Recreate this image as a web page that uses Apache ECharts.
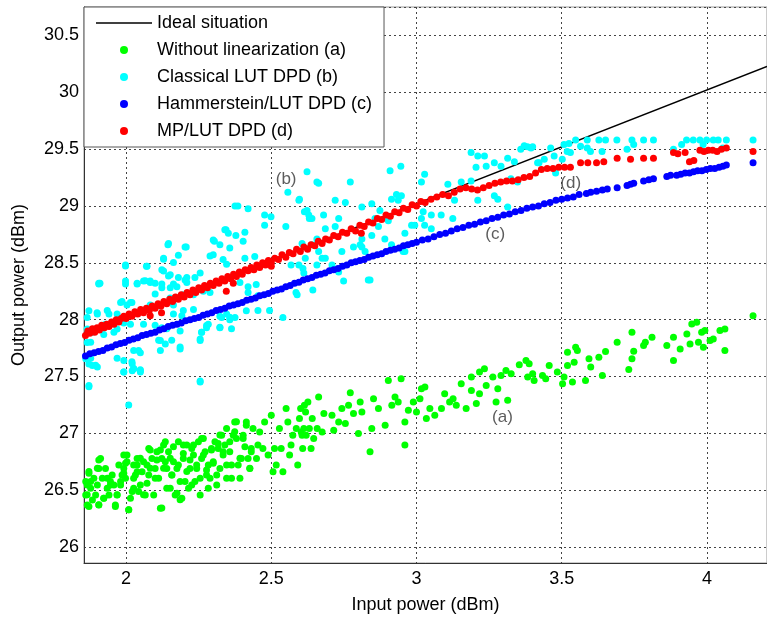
<!DOCTYPE html>
<html><head><meta charset="utf-8">
<script src="https://cdn.jsdelivr.net/npm/echarts@6/dist/echarts.min.js"></script>
<style>html,body{margin:0;padding:0;background:#fff;overflow:hidden}#c{width:767px;height:619px}</style>
</head><body><div id="c"></div>
<script>
const seriesNames = ['Ideal situation','Without linearization (a)','Classical LUT DPD (b)','Hammerstein/LUT DPD (c)','MP/LUT DPD (d)'];
const xAxisName = 'Input power (dBm)';
const yAxisName = 'Output power (dBm)';
const xRange = [1.855, 4.207];
const yRange = [25.86, 30.75];

const idealPts = [[1.855,27.875],[4.207,30.227]];

const greenPts = [
[1.861,26.576],[1.861,26.459],[1.866,26.371],[1.878,26.517],[1.872,26.649],[1.889,26.605],[1.901,26.546],[1.906,26.692],[1.912,26.780],[1.895,26.459],
[1.906,26.371],[1.923,26.430],[1.935,26.517],[1.946,26.576],[1.952,26.634],[1.963,26.371],[1.969,26.459],[1.981,26.546],[1.986,26.634],[1.992,26.692],
[1.992,26.809],[2.009,26.328],[2.015,26.430],[2.021,26.488],[2.026,26.605],[2.026,26.722],[2.038,26.780],[2.049,26.546],[2.055,26.663],[2.060,26.751],
[2.066,26.459],[2.078,26.634],[2.083,26.853],[2.095,26.459],[2.100,26.692],[2.112,26.605],[2.118,26.342],[2.123,26.780],[2.129,26.897],[2.140,26.692],
[2.146,26.838],[2.152,26.517],[2.163,26.751],[2.169,26.459],[2.180,26.926],[2.186,26.576],[2.192,26.430],[2.197,26.780],[2.209,26.897],[2.220,26.692],
[2.232,26.809],[2.237,26.576],[2.249,26.926],[2.255,26.459],[2.260,26.780],[2.266,26.955],[2.277,26.634],[2.283,26.722],[2.294,26.868],[2.300,26.751],
[2.306,26.926],[2.312,26.546],[2.323,26.692],[2.329,26.984],[2.334,26.809],[2.346,26.605],[2.346,27.043],[2.357,26.838],[2.363,26.722],[2.374,27.101],
[2.380,26.955],[2.392,26.605],[2.397,26.780],[2.409,26.882],[2.414,27.101],[2.426,26.692],[2.431,26.838],[2.449,26.780],[2.460,27.013],[2.471,26.868],
[2.477,27.101],[2.500,27.159],[2.506,26.663],[2.511,26.868],[2.517,26.722],[2.528,27.043],[2.540,26.663],[2.551,27.218],[2.557,27.101],[2.563,26.809],
[2.574,26.984],[2.591,26.722],[2.597,27.130],[2.608,26.868],[2.614,27.247],[2.626,27.276],[2.631,27.043],[2.637,26.868],
[1.866,26.546],[1.884,26.415],[1.918,26.605],[1.929,26.692],[1.941,26.459],[1.958,26.546],[1.975,26.722],[1.998,26.605],[2.003,26.751],[2.038,26.663],
[2.043,26.488],[2.072,26.722],[2.089,26.780],[2.106,26.838],[2.135,26.751],[2.157,26.634],[2.175,26.692],[2.197,26.897],[2.215,26.517],[2.226,26.868],
[2.243,26.692],[2.272,26.838],[2.289,26.605],[2.317,26.868],[2.340,26.897],[2.369,26.984],[2.386,26.722],[2.403,26.984],[2.420,26.780],[2.437,27.043],
[2.454,26.897],[2.489,26.809],[2.534,26.868],[2.568,26.897],[2.586,27.043],[2.603,27.013],[2.620,26.984],
[1.872,26.664],[1.906,26.766],[1.901,26.693],[1.878,26.576],[1.866,26.460],[1.872,26.357],[1.906,26.372],[1.923,26.430],[1.935,26.605],[1.946,26.547],
[1.963,26.357],[1.969,26.460],[1.981,26.576],[1.992,26.649],[1.998,26.737],[2.003,26.810],[2.009,26.328],[2.026,26.518],[2.032,26.635],[2.038,26.722],
[2.049,26.781],[2.060,26.460],[2.072,26.562],[2.078,26.868],[2.083,26.693],[2.100,26.605],[2.106,26.766],[2.118,26.854],[2.123,26.343],[2.129,26.693],
[2.135,26.927],[2.140,26.518],[2.152,26.781],[2.158,26.635],[2.163,26.883],[2.175,26.474],[2.180,26.722],[2.186,26.416],[2.197,26.824],[2.203,26.576],
[2.209,26.664],[2.220,26.766],[2.226,26.547],[2.232,26.897],[2.243,26.722],[2.255,26.605],[2.260,26.956],[2.266,26.810],[2.277,26.678],[2.283,26.518],
[2.294,26.854],[2.300,26.737],[2.312,26.635],[2.317,26.912],[2.323,26.985],[2.334,26.839],[2.346,26.722],[2.357,26.927],[2.363,26.605],[2.374,27.014],
[2.380,27.102],[2.392,26.781],[2.403,26.956],[2.414,27.072],[2.426,26.693],[2.431,26.868],
[2.601,27.218],[2.612,27.043],[2.618,27.189],[2.606,26.984],[2.641,27.130],[2.646,26.955],[2.663,27.320],[2.658,27.043],[2.675,27.013],[2.681,27.174],
[2.709,27.159],[2.715,27.028],[2.732,27.101],[2.743,27.218],[2.755,27.086],[2.766,27.247],[2.772,27.358],[2.783,27.174],[2.800,26.999],[2.806,27.276],
[2.812,27.189],[2.840,26.838],[2.846,27.043],[2.852,27.305],[2.869,27.218],[2.892,27.072],[2.903,27.466],[2.915,27.247],[2.926,27.320],[2.937,27.276],
[2.947,27.480],[2.960,26.897],[2.960,27.101],[2.972,27.203],[2.989,27.276],[3.000,27.189],[3.012,27.305],[3.017,27.393],[3.029,27.408],[3.034,27.130],
[3.046,27.218],[3.063,27.159],[3.086,27.218],[3.097,27.349],[3.114,27.276],[3.126,27.305],[3.137,27.247],[3.154,27.437],[3.171,27.218],[3.189,27.495],
[3.189,27.378],[3.206,27.262],[3.217,27.539],[3.217,27.349],[3.234,27.568],[3.240,27.422],[3.263,27.495],[3.274,27.276],[3.280,27.393],[3.291,27.510],
[3.308,27.553],[3.314,27.291],[3.326,27.524],[3.354,27.603],[3.377,27.641],[3.388,27.612],[3.383,27.495],[3.400,27.524],[3.405,27.466],[3.434,27.510],
[3.445,27.480],[3.457,27.597],[3.485,27.539],[3.503,27.437],[3.508,27.495],[3.520,27.714],[3.520,27.597],[3.537,27.451],[3.543,27.626],[3.548,27.758],
[3.554,27.729],[3.582,27.466],[3.594,27.656],[3.600,27.583],[3.628,27.670],[3.640,27.510],[3.651,27.720],[3.691,27.802],[3.731,27.562],[3.742,27.656],
[3.748,27.723],[3.742,27.889],[3.782,27.772],[3.788,27.802],[3.811,27.845],[3.862,27.772],[3.885,27.845],[3.885,27.641],[3.908,27.743],[3.931,27.875],
[3.942,27.787],[3.948,27.962],[3.965,27.977],[3.971,27.802],[3.982,27.889],[3.993,27.904],[3.988,27.758],[4.011,27.816],[4.022,27.831],[4.045,27.904],
[4.062,27.918],[4.062,27.729],[4.159,28.035]
];

const cyanPts = [
[2.375,29.0],[2.385,29.0],[2.42,28.975],[2.477,28.92],[2.499,28.905],[2.477,28.83],[2.55,28.82],[2.557,29.12],[2.597,29.06],[2.614,28.95],
[2.631,28.89],[2.34,28.79],[2.352,28.76],[2.409,28.77],[2.403,28.69],[2.30,28.70],[2.323,28.66],[2.357,28.63],[2.203,28.64],[2.146,28.67],
[2.30,28.57],[2.334,28.53],[2.409,28.54],[2.443,28.555],[1.998,28.48],[2.072,28.47],[2.123,28.44],[2.152,28.395],[2.18,28.37],[2.203,28.35],
[2.038,28.32],[2.06,28.34],[2.083,28.34],[2.1,28.32],[1.998,28.34],[2.123,28.28],[2.152,28.28],[2.175,28.29],[2.209,28.37],[2.237,28.37],
[2.255,28.41],[1.906,28.32],[1.9,28.06],[1.935,28.08],[1.969,28.05],[1.986,28.16],[2.02,28.15],[1.866,28.02],[1.992,27.97],[2.015,27.96],
[2.06,27.96],[2.1,27.95],[2.083,28.13],[2.118,28.12],[2.152,28.19],[2.163,28.13],[2.197,28.08],[2.232,28.09],[2.163,28.05],[2.197,28.22],
[2.232,28.22],[2.266,28.25],[2.289,28.24],[2.283,27.96],[2.277,27.93],[2.323,27.93],[2.26,27.89],[2.255,27.83],[2.186,27.90],[2.186,27.76],
[2.112,27.82],[2.118,27.73],[2.157,27.82],[2.329,28.02],[2.357,28.0],[2.375,28.02],[2.363,27.92],[1.883,27.89],[1.866,27.80],[1.923,27.87],
[1.958,27.89],[1.969,27.66],[1.992,27.64],[2.026,27.73],[2.049,27.71],[2.02,27.63],[2.026,27.57],[2.049,27.55],[1.992,27.54],[1.878,27.66],
[1.895,27.60],[1.872,27.61],[1.872,27.41],[2.255,27.46],[2.009,27.25],[2.54,28.02],[2.585,28.24],[2.643,28.26],[2.568,28.48],[2.609,28.45],
[2.454,28.08],[2.494,28.08],[2.42,28.29],[2.448,28.31],[2.454,28.21],[2.323,28.03],[2.346,28.05],[2.123,27.93],[2.14,27.92],[1.929,27.96],
[2.129,28.54],[2.003,28.13],[2.021,27.55],[2.049,27.56],
[1.872,28.079],[1.906,28.313],[1.901,28.050],[1.866,27.918],[1.878,27.802],[1.861,27.656],[1.884,27.597],[1.901,27.583],[1.872,27.422],[1.941,28.050],
[1.969,27.918],[1.981,28.152],[1.998,28.473],[1.998,28.313],[1.992,27.539],[2.015,28.152],[2.021,27.612],[2.026,27.568],[2.043,27.729],[2.049,27.539],
[2.038,28.313],[2.066,28.342],[2.083,28.327],[2.100,28.225],[2.123,28.313],[2.129,28.429],[2.146,28.385],[2.163,28.313],[2.180,28.566],[2.192,28.035],
[2.209,28.327],[2.118,27.816],[2.135,27.787],[2.186,27.743],[2.255,27.816],[2.260,27.889],[2.255,27.451],[2.277,27.948],[2.323,27.933],[2.346,28.488],
[2.357,28.021],[2.414,28.079],[2.420,28.239],[2.392,28.327],[2.289,28.561],[2.129,28.531],[2.163,28.502],
[2.623,29.30],[2.657,29.21],[2.772,29.21],[2.909,29.31],[2.946,29.35],[3.017,29.21],[2.595,29.05],[2.623,28.96],[2.629,28.92],[2.72,29.05],
[2.755,29.03],[2.732,28.89],[2.812,28.99],[2.846,29.02],[2.874,28.96],[2.914,29.06],[2.903,28.87],[2.897,28.89],[2.686,28.80],[2.72,28.82],
[2.657,28.71],[2.783,28.64],[2.812,28.64],[2.743,28.60],[2.663,28.60],[2.686,28.54],[2.812,28.71],[2.846,28.74],[2.914,28.66],[2.954,28.60],
[2.749,28.34],[2.834,28.35],[2.589,28.22],[2.983,28.83],[3.017,28.89],[2.948,29.09],
[2.663,29.20],[3.028,29.28],[3.108,29.19],[3.188,29.47],[3.211,29.44],[3.234,29.44],[3.205,29.34],[3.24,29.35],[3.268,29.38],[3.291,29.35],
[3.314,29.42],[3.337,29.39],[3.359,29.50],[3.382,29.52],[3.40,29.52],[3.417,29.38],[3.44,29.41],[3.474,29.44],[3.28,29.06],[3.268,29.09],
[3.154,29.21],[3.188,29.22],[3.131,29.05],[3.211,29.05],[3.314,28.99],[2.931,29.10],[2.937,29.05],[2.64,28.89],[2.68,28.92],[2.857,28.89],
[2.869,28.82],[2.891,28.71],[2.96,28.76],[2.994,28.83],[3.023,28.95],[3.051,28.92],[3.085,28.92],[3.028,28.83],[3.051,28.80],[3.125,28.89],
[2.96,28.60],[2.806,28.66],[2.823,28.60],[2.675,28.54],[2.657,28.48],[2.64,28.66],[2.617,28.54],[2.84,28.35],[2.709,28.48],[2.732,28.42],
[2.595,28.48],[2.612,28.41],[2.606,28.67],[3.479,29.29],[3.325,29.24],[3.348,29.21],
[3.422,29.38],[3.508,29.54],[3.525,29.55],[3.548,29.58],[3.519,29.48],[3.53,29.47],[3.502,29.41],[3.588,29.58],[3.628,29.58],[3.651,29.58],
[3.69,29.58],[3.588,29.51],[3.599,29.48],[3.639,29.48],[3.742,29.58],[3.748,29.54],[3.725,29.50],[3.782,29.58],[3.816,29.58],[3.885,29.50],
[3.913,29.54],[3.93,29.58],[3.953,29.58],[3.976,29.58],[3.999,29.58],[4.022,29.58],[4.039,29.58],[4.067,29.58],[3.987,29.54],[4.055,29.51],
[4.159,29.58],[3.565,29.525],[3.371,29.53],[3.394,29.51],[3.462,29.51],
[2.144,28.66],[2.207,28.64],[1.91,28.32],[2.07,28.47],[2.344,28.79],[2.378,28.74],[2.304,28.69]
];

const bluePts = [
[1.860,27.68],[1.875,27.70],[1.890,27.71],[1.905,27.72],[1.920,27.73],[1.935,27.75],[1.950,27.76],[1.965,27.78],[1.980,27.79],[1.995,27.80],
[2.010,27.82],[2.025,27.83],[2.040,27.84],[2.055,27.86],[2.070,27.87],[2.085,27.88],[2.100,27.89],[2.115,27.91],[2.130,27.92],[2.145,27.94],
[2.160,27.95],[2.175,27.96],[2.190,27.97],[2.205,27.99],[2.220,28.00],[2.235,28.01],[2.250,28.02],[2.265,28.04],[2.280,28.05],[2.295,28.06],
[2.310,28.08],[2.325,28.09],[2.340,28.10],[2.355,28.12],[2.370,28.13],[2.385,28.14],[2.400,28.15],[2.415,28.17],[2.430,28.18],[2.445,28.19],
[2.460,28.21],[2.475,28.22],[2.490,28.23],[2.505,28.25],[2.520,28.26],[2.535,28.27],[2.550,28.29],[2.565,28.30],[2.580,28.32],[2.595,28.33],
[2.610,28.35],[2.625,28.36],[2.640,28.37],[2.655,28.39],[2.670,28.40],[2.685,28.41],[2.700,28.43],[2.715,28.44],[2.730,28.45],[2.745,28.47],
[2.760,28.48],[2.775,28.50],[2.790,28.51],[2.805,28.52],[2.820,28.53],[2.835,28.55],[2.850,28.56],[2.865,28.57],[2.880,28.58],[2.895,28.60],
[2.910,28.61],[2.925,28.62],[2.940,28.63],[2.955,28.65],[2.970,28.66],[2.985,28.67],[3.000,28.68],[3.020,28.70],[3.040,28.71],[3.060,28.73],
[3.080,28.75],[3.100,28.76],[3.120,28.78],[3.140,28.80],[3.160,28.81],[3.180,28.83],[3.200,28.84],[3.220,28.86],[3.240,28.87],[3.260,28.89],
[3.280,28.90],[3.300,28.92],[3.320,28.93],[3.340,28.95],[3.360,28.96],[3.380,28.98],[3.400,28.99],[3.420,29.00],[3.440,29.02],[3.460,29.03],
[3.480,29.05],[3.500,29.06],[3.520,29.07],[3.540,29.08],[3.560,29.10],[3.585,29.11],[3.600,29.12],[3.620,29.13],[3.640,29.14],[3.657,29.15],
[3.691,29.16],[3.725,29.18],[3.737,29.19],[3.748,29.20],[3.782,29.22],[3.800,29.23],[3.816,29.24],[3.862,29.26],[3.875,29.27],[3.896,29.27],
[3.910,29.28],[3.925,29.29],[3.940,29.29],[3.954,29.30],[3.968,29.31],[3.983,29.31],[3.998,29.32],[4.012,29.33],[4.027,29.33],[4.042,29.34],
[4.055,29.35],[4.067,29.36],[4.159,29.38]
];

const redPts = [
[1.860,27.86],[1.868,27.90],[1.875,27.88],[1.884,27.92],[1.892,27.89],[1.900,27.93],[1.908,27.91],[1.916,27.95],[1.925,27.93],[1.933,27.96],
[1.941,27.94],[1.950,27.98],[1.958,27.96],[1.966,28.00],[1.975,27.98],[1.983,28.01],[1.992,28.03],[2.000,28.01],[2.010,28.05],[2.020,28.03],
[2.030,28.07],[2.040,28.05],[2.050,28.09],[2.060,28.06],[2.070,28.10],[2.080,28.08],[2.090,28.12],[2.100,28.10],[2.110,28.14],[2.120,28.12],
[2.130,28.16],[2.140,28.14],[2.150,28.18],[2.160,28.16],[2.170,28.20],[2.180,28.18],[2.190,28.22],[2.200,28.20],[2.210,28.24],[2.220,28.22],
[2.230,28.26],[2.240,28.24],[2.250,28.28],[2.260,28.26],[2.270,28.30],[2.280,28.28],[2.290,28.32],[2.300,28.30],[2.310,28.34],[2.320,28.32],
[2.330,28.36],[2.340,28.34],[2.350,28.38],[2.360,28.36],[2.370,28.40],[2.380,28.38],[2.390,28.42],[2.400,28.40],[2.410,28.44],[2.420,28.43],
[2.430,28.46],[2.440,28.44],[2.450,28.48],[2.460,28.46],[2.470,28.50],[2.480,28.48],[2.490,28.52],[2.500,28.50],[2.512,28.54],[2.525,28.53],
[2.537,28.57],[2.550,28.55],[2.562,28.59],[2.575,28.58],[2.587,28.62],[2.600,28.60],[2.612,28.64],[2.625,28.62],[2.637,28.66],[2.650,28.65],
[2.662,28.69],[2.675,28.67],[2.687,28.71],[2.700,28.70],[2.715,28.74],[2.730,28.73],[2.745,28.77],[2.760,28.76],[2.775,28.80],[2.790,28.78],
[2.805,28.83],[2.820,28.82],[2.835,28.86],[2.850,28.85],[2.865,28.89],[2.880,28.88],[2.895,28.92],[2.910,28.91],[2.925,28.95],[2.940,28.94],
[2.955,28.98],[2.970,28.97],[2.985,29.01],[3.000,29.00],[3.015,29.04],[3.030,29.03],[3.050,29.06],[3.070,29.08],[3.090,29.10],[3.110,29.09],
[3.130,29.12],[3.150,29.15],[3.170,29.16],[3.190,29.15],[3.210,29.14],[3.230,29.16],[3.250,29.18],[3.270,29.20],[3.290,29.21],[3.310,29.22],
[3.330,29.22],[3.350,29.23],[3.370,29.25],[3.390,29.26],[3.410,29.29],[3.430,29.32],[3.450,29.33],[3.470,29.33],[3.490,29.34],[3.510,29.34],
[3.530,29.34],[3.565,29.38],[3.590,29.38],[3.620,29.38],[3.645,29.39],[3.691,29.42],[3.737,29.41],[3.782,29.42],[3.816,29.42],[3.885,29.47],
[3.900,29.46],[3.925,29.47],[3.940,29.39],[3.955,29.40],[3.976,29.49],[3.990,29.48],[4.005,29.49],[4.020,29.49],[4.035,29.48],[4.050,29.50],
[4.067,29.51],[4.159,29.48],
[2.083,28.035],[2.122,28.06],[2.345,28.25],[2.369,28.32],[2.500,28.47],[2.810,28.76]
];

const noteLabels = ['(a)','(b)','(c)','(d)'];
const notePts = [[3.296,27.14],[2.551,29.233],[3.271,28.755],[3.531,29.203]];

const FONT = "'Liberation Sans', Arial, Helvetica, sans-serif";
const dotColors = ['#00ff00','#00ffff','#0000ff','#ff0000'];
const dotSets = [greenPts, cyanPts, bluePts, redPts];

const chart = echarts.init(document.getElementById('c'), null, {renderer:'canvas'});
const series = [{
  name: seriesNames[0], type: 'line', data: idealPts, symbol: 'none', showSymbol: false,
  lineStyle: {color:'#000', width: 1.5}, itemStyle:{color:'#000'}, z: 1, silent: true
}];
dotSets.forEach((pts, i) => {
  series.push({
    name: seriesNames[i+1], type: 'scatter', data: pts, symbol: 'circle', symbolSize: 7,
    itemStyle: {color: dotColors[i], opacity: 1}, z: 2 + i, silent: true
  });
});
series.push({
  name: 'notes', type: 'scatter', symbolSize: 0, silent: true, z: 10,
  data: notePts.map((p, i) => ({value: p, label: {formatter: noteLabels[i]}})),
  label: {show: true, position: 'inside', color: '#333', fontSize: 17, fontFamily: FONT}
});

chart.setOption({
  animation: false,
  backgroundColor: '#fff',
  grid: {left: 84, top: 7, right: -2, bottom: 54, show: true, borderColor: '#999', borderWidth: 1},
  xAxis: {
    type: 'value', min: xRange[0], max: xRange[1], minInterval: 0.5, maxInterval: 0.5,
    name: xAxisName, nameLocation: 'middle', nameGap: 33,
    nameTextStyle: {color: '#000', fontSize: 18, fontFamily: FONT},
    axisLine: {show: true, onZero: false, lineStyle: {color: '#333', width: 1}},
    axisTick: {show: false},
    axisLabel: {color: '#000', fontSize: 18, fontFamily: FONT, margin: 7, showMinLabel: false, showMaxLabel: false},
    splitLine: {show: true, lineStyle: {color: '#444', width: 1, type: [2, 3]}}
  },
  yAxis: {
    type: 'value', min: yRange[0], max: yRange[1], minInterval: 0.5, maxInterval: 0.5,
    name: yAxisName, nameLocation: 'middle', nameGap: 56,
    nameTextStyle: {color: '#000', fontSize: 18, fontFamily: FONT},
    axisLine: {show: true, onZero: false, lineStyle: {color: '#333', width: 1}},
    axisTick: {show: false},
    axisLabel: {color: '#000', fontSize: 18, fontFamily: FONT, margin: 5, showMinLabel: false, showMaxLabel: false},
    splitLine: {show: true, lineStyle: {color: '#444', width: 1, type: [2, 3]}}
  },
  legend: {
    data: seriesNames.map((n, i) => i === 0
      ? {name: n, icon: 'path://M0,0 L56,0 L56,1.3 L0,1.3 Z', itemStyle: {color: '#000'}}
      : {name: n, icon: 'circle'}),
    orient: 'vertical', left: 84, top: 7,
    backgroundColor: '#fff', borderColor: '#555', borderWidth: 1,
    padding: [6, 12, 6, 12], itemGap: 7, itemWidth: 56, itemHeight: 8,
    textStyle: {color: '#000', fontSize: 18, fontFamily: FONT, lineHeight: 20},
    selectedMode: false
  },
  series: series
});
</script>
</body></html>
